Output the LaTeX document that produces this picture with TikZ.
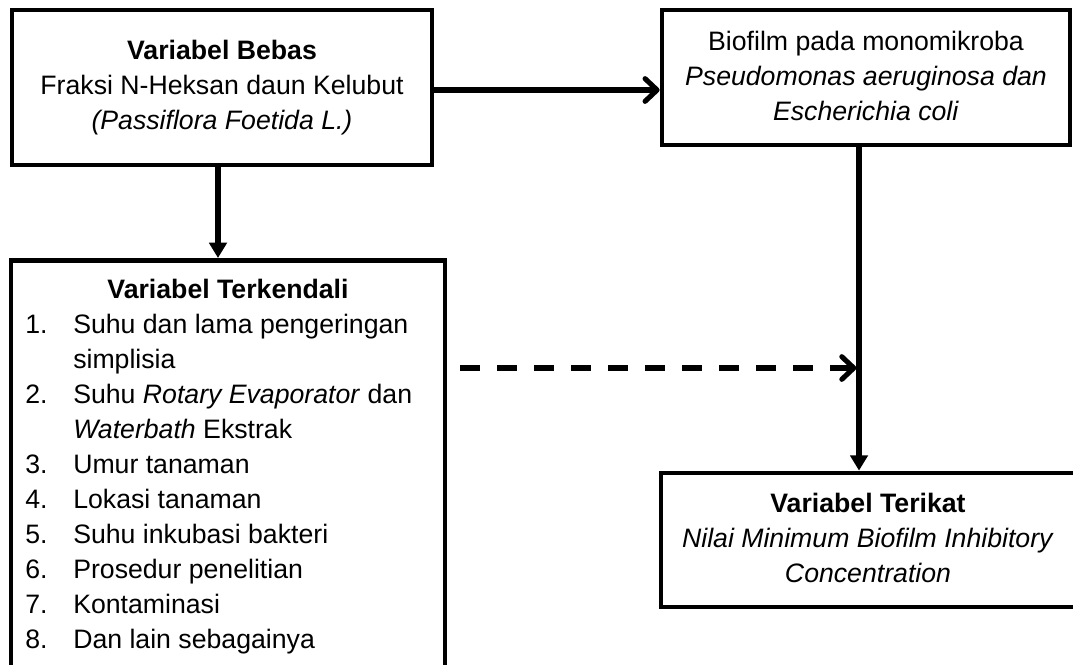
\documentclass[tikz,border=0pt]{standalone}
\usepackage{fontspec}
\setmainfont{Liberation Sans}
\usetikzlibrary{arrows.meta}
\newcommand{\lstnum}[1]{\makebox[36pt][l]{#1}}
\begin{document}
\begin{tikzpicture}[x=0.75pt,y=-0.75pt,
  font=\fontsize{20pt}{26.25pt}\selectfont,
  box/.style={draw, line width=3.6pt, inner sep=0pt, align=center},
  solidarrow/.style={line width=3.8pt, -{Triangle[length=11.5pt,width=13pt]}},
  barbarrow/.style={line width=3.8pt, -{Straight Barb[length=9pt,width=17pt,round]}},
  dashedarrow/.style={barbarrow, dash pattern=on 15pt off 12.75pt}
]
\useasboundingbox (0,0) rectangle (1073,664);
\clip (0,0) rectangle (1073,664);

\node[box, minimum width=315pt, minimum height=116.25pt] (bebas) at (222,87.5)
  {\textbf{Variabel Bebas}\\Fraksi N-Heksan daun Kelubut\\\textit{(Passiflora Foetida L.)}};
\node[box, minimum width=306pt, minimum height=101.25pt] (biofilm) at (866,77.5)
  {Biofilm pada monomikroba\\\textit{Pseudomonas aeruginosa dan}\\\textit{Escherichia coli}\rule[-3pt]{0pt}{0pt}};
\node[box, minimum width=325.5pt, minimum height=322.5pt, anchor=north] (kendali) at (228,258) {};
\node[anchor=base, inner sep=0pt] (kendalititle) at (228,298) {\textbf{Variabel Terkendali}};
\node[anchor=north west, inner sep=0pt, align=left] (kendalilist) at (25,313.6)
  {\lstnum{1.}Suhu dan lama pengeringan\\
   \lstnum{}simplisia\\
   \lstnum{2.}Suhu \textit{Rotary Evaporator} dan\\
   \lstnum{}\textit{Waterbath} Ekstrak\\
   \lstnum{3.}Umur tanaman\\
   \lstnum{4.}Lokasi tanaman\\
   \lstnum{5.}Suhu inkubasi bakteri\\
   \lstnum{6.}Prosedur penelitian\\
   \lstnum{7.}Kontaminasi\\
   \lstnum{8.}Dan lain sebagainya};
\node[box, minimum width=310.5pt, minimum height=100.5pt] (terikat) at (868,540)
  {\textbf{Variabel Terikat}\\\textit{Nilai Minimum Biofilm Inhibitory}\\\textit{Concentration}\rule[-3.75pt]{0pt}{0pt}};

\coordinate (yone) at (0,90);
\coordinate (xone) at (218,0);
\coordinate (xtwo) at (859,0);
\coordinate (meet) at (859,368);

\draw[barbarrow] (bebas.east |- yone) -- (biofilm.west |- yone);
\draw[solidarrow] (bebas.south -| xone) -- (kendali.north -| xone);
\draw[solidarrow] (biofilm.south -| xtwo) -- (terikat.north -| xtwo);
\draw[dashedarrow, shorten <=9.75pt, shorten >=2pt] (kendali.east |- meet) -- (meet);
\end{tikzpicture}
\end{document}
